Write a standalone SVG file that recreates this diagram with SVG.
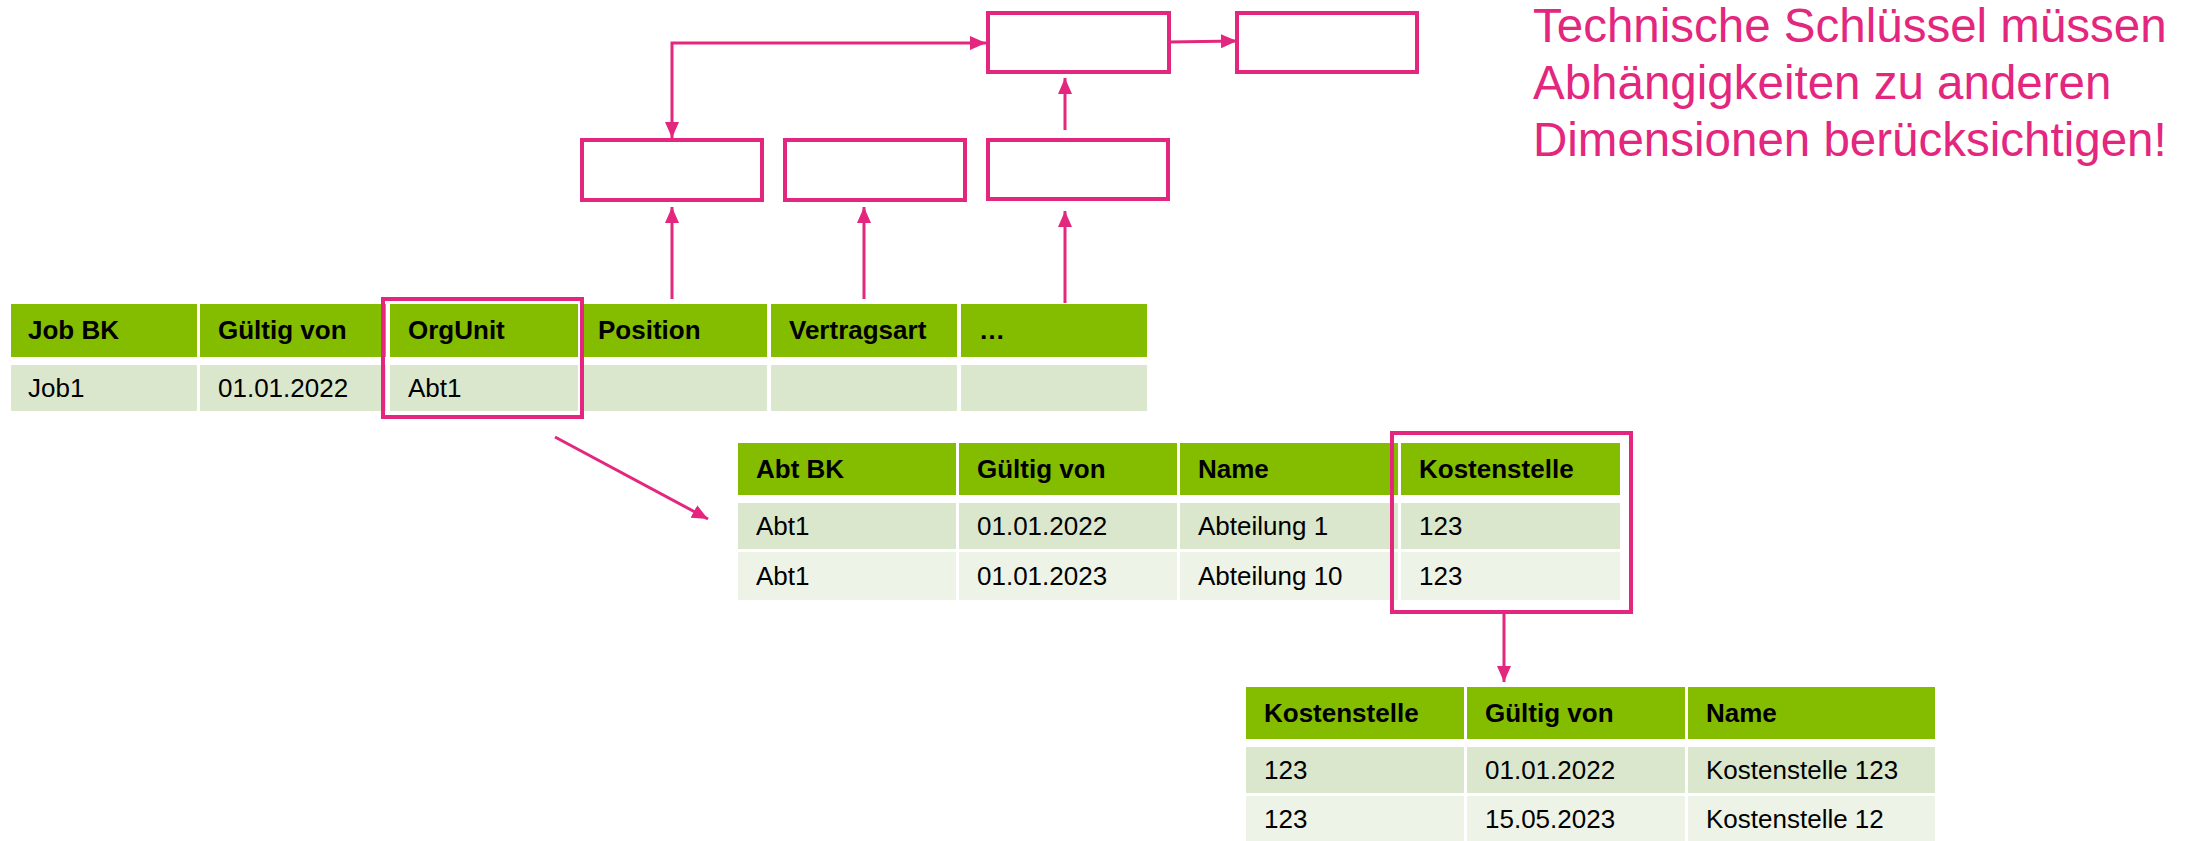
<svg xmlns="http://www.w3.org/2000/svg" width="2192" height="841" viewBox="0 0 2192 841">
<defs>
<style>
.h{fill:#84BD00}
.r1{fill:#DAE7CC}
.r2{fill:#EDF3E7}
.ht{font-family:"Liberation Sans",Arial,sans-serif;font-size:26px;font-weight:bold;fill:#000}
.dt{font-family:"Liberation Sans",Arial,sans-serif;font-size:26px;fill:#000}
.box{fill:none;stroke:#E3267E;stroke-width:4}
.con{fill:none;stroke:#E3267E;stroke-width:3}
.title{font-family:"Liberation Sans",Arial,sans-serif;font-size:47.5px;fill:#E3267E}
</style>
<marker id="ah" markerUnits="userSpaceOnUse" markerWidth="17" markerHeight="14" refX="16" refY="7" orient="auto">
<path d="M0,0 L16,7 L0,14 z" fill="#E3267E"/>
</marker>
<marker id="ahs" markerUnits="userSpaceOnUse" markerWidth="17" markerHeight="14" refX="0" refY="7" orient="auto">
<path d="M16,0 L0,7 L16,14 z" fill="#E3267E"/>
</marker>
</defs>
<rect width="2192" height="841" fill="#fff"/>

<g id="table-job">
<rect class="h" x="11" y="304" width="186" height="53"/>
<rect class="h" x="200" y="304" width="186" height="53"/>
<rect class="h" x="390" y="304" width="188" height="53"/>
<rect class="h" x="583" y="304" width="184" height="53"/>
<rect class="h" x="771" y="304" width="186" height="53"/>
<rect class="h" x="961" y="304" width="186" height="53"/>
<rect class="r1" x="11" y="365" width="186" height="46"/>
<rect class="r1" x="200" y="365" width="186" height="46"/>
<rect class="r1" x="390" y="365" width="188" height="46"/>
<rect class="r1" x="583" y="365" width="184" height="46"/>
<rect class="r1" x="771" y="365" width="186" height="46"/>
<rect class="r1" x="961" y="365" width="186" height="46"/>
<text class="ht" x="28" y="339">Job BK</text>
<text class="ht" x="218" y="339">Gültig von</text>
<text class="ht" x="408" y="339">OrgUnit</text>
<text class="ht" x="598" y="339">Position</text>
<text class="ht" x="789" y="339">Vertragsart</text>
<text class="ht" x="979" y="339">…</text>
<text class="dt" x="28" y="397">Job1</text>
<text class="dt" x="218" y="397">01.01.2022</text>
<text class="dt" x="408" y="397">Abt1</text>
</g>

<g id="highlight-orgunit">
<rect class="box" x="383" y="299" width="199" height="118"/>
</g>

<g id="table-abt">
<rect class="h" x="738" y="443" width="218" height="52"/>
<rect class="h" x="959" y="443" width="218" height="52"/>
<rect class="h" x="1180" y="443" width="218" height="52"/>
<rect class="h" x="1401" y="443" width="219" height="52"/>
<rect class="r1" x="738" y="503" width="218" height="46"/>
<rect class="r1" x="959" y="503" width="218" height="46"/>
<rect class="r1" x="1180" y="503" width="218" height="46"/>
<rect class="r1" x="1401" y="503" width="219" height="46"/>
<rect class="r2" x="738" y="552" width="218" height="48"/>
<rect class="r2" x="959" y="552" width="218" height="48"/>
<rect class="r2" x="1180" y="552" width="218" height="48"/>
<rect class="r2" x="1401" y="552" width="219" height="48"/>
<text class="ht" x="756" y="478">Abt BK</text>
<text class="ht" x="977" y="478">Gültig von</text>
<text class="ht" x="1198" y="478">Name</text>
<text class="ht" x="1419" y="478">Kostenstelle</text>
<text class="dt" x="756" y="535">Abt1</text>
<text class="dt" x="977" y="535">01.01.2022</text>
<text class="dt" x="1198" y="535">Abteilung 1</text>
<text class="dt" x="1419" y="535">123</text>
<text class="dt" x="756" y="585">Abt1</text>
<text class="dt" x="977" y="585">01.01.2023</text>
<text class="dt" x="1198" y="585">Abteilung 10</text>
<text class="dt" x="1419" y="585">123</text>
</g>

<g id="highlight-kostenstelle">
<rect class="box" x="1392" y="433" width="239" height="179"/>
</g>

<g id="table-kst">
<rect class="h" x="1246" y="687" width="218" height="52"/>
<rect class="h" x="1467" y="687" width="218" height="52"/>
<rect class="h" x="1688" y="687" width="247" height="52"/>
<rect class="r1" x="1246" y="747" width="218" height="46"/>
<rect class="r1" x="1467" y="747" width="218" height="46"/>
<rect class="r1" x="1688" y="747" width="247" height="46"/>
<rect class="r2" x="1246" y="796" width="218" height="46"/>
<rect class="r2" x="1467" y="796" width="218" height="46"/>
<rect class="r2" x="1688" y="796" width="247" height="46"/>
<text class="ht" x="1264" y="722">Kostenstelle</text>
<text class="ht" x="1485" y="722">Gültig von</text>
<text class="ht" x="1706" y="722">Name</text>
<text class="dt" x="1264" y="779">123</text>
<text class="dt" x="1485" y="779">01.01.2022</text>
<text class="dt" x="1706" y="779">Kostenstelle 123</text>
<text class="dt" x="1264" y="828">123</text>
<text class="dt" x="1485" y="828">15.05.2023</text>
<text class="dt" x="1706" y="828">Kostenstelle 12</text>
</g>

<g id="box-top-1"><rect class="box" x="988" y="13" width="181" height="59"/></g>
<g id="box-top-2"><rect class="box" x="1237" y="13" width="180" height="59"/></g>
<g id="box-mid-1"><rect class="box" x="582" y="140" width="180" height="60"/></g>
<g id="box-mid-2"><rect class="box" x="785" y="140" width="180" height="60"/></g>
<g id="box-mid-3"><rect class="box" x="988" y="140" width="180" height="59"/></g>

<g id="title">
<text class="title" x="1533" y="42">Technische Schlüssel müssen</text>
<text class="title" x="1533" y="99">Abhängigkeiten zu anderen</text>
<text class="title" x="1533" y="156">Dimensionen berücksichtigen!</text>
</g>

<g id="connectors">
<path class="con" d="M672,299 L672,207" marker-end="url(#ah)"/>
<path class="con" d="M864,299 L864,207" marker-end="url(#ah)"/>
<path class="con" d="M1065,303 L1065,211" marker-end="url(#ah)"/>
<path class="con" d="M1065,130 L1065,78" marker-end="url(#ah)"/>
<path class="con" d="M1169,42 L1237,41" marker-end="url(#ah)"/>
<path class="con" d="M986,43 L672,43 L672,138" marker-start="url(#ahs)" marker-end="url(#ah)"/>
<path class="con" d="M555,437 L708,519" marker-end="url(#ah)"/>
<path class="con" d="M1504,613 L1504,682" marker-end="url(#ah)"/>
</g>
</svg>
